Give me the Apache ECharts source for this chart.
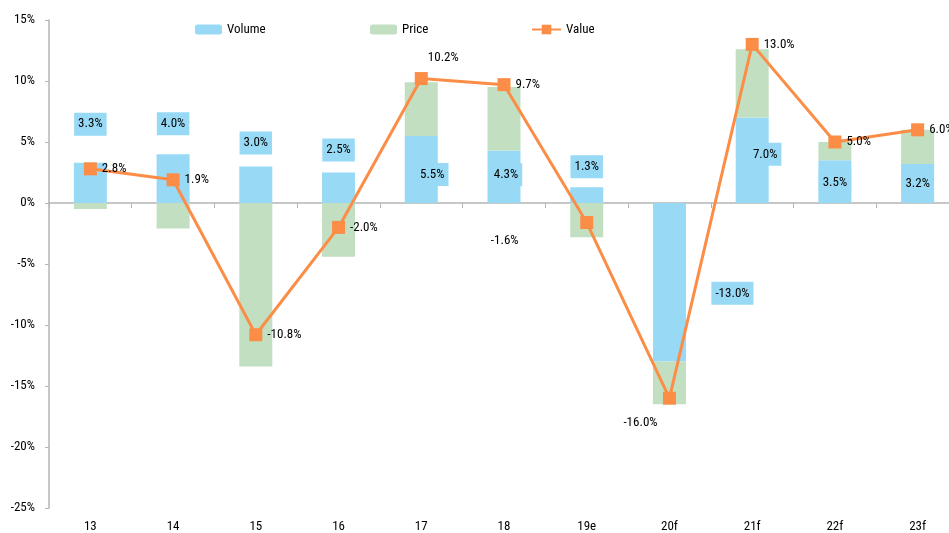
<!DOCTYPE html>
<html>
<head>
<meta charset="utf-8">
<script src="https://cdn.jsdelivr.net/npm/echarts@6/dist/echarts.min.js"></script>
<style>html,body{margin:0;padding:0;background:#fff;}#c{width:949px;height:533px;}</style>
</head>
<body>
<div id="c"></div>
<script>
const categories = ['13','14','15','16','17','18','19e','20f','21f','22f','23f'];
const volume = [3.3, 4.0, 3.0, 2.5, 5.5, 4.3, 1.3, -13.0, 7.0, 3.5, 3.2];
const price  = [-0.5, -2.1, -13.4, -4.4, 4.4, 5.2, -2.8, -3.5, 5.6, 1.5, 2.8];
const value  = [2.8, 1.9, -10.8, -2.0, 10.2, 9.7, -1.6, -16.0, 13.0, 5.0, 6.0];
const yTicks = { min: -25, max: 15, interval: 5 };

const FONT = "'Roboto Condensed', 'Liberation Sans Narrow', 'DejaVu Sans Condensed', 'DejaVu Sans', sans-serif";
const FSTYLE = 'condensed';
const BLUE = '#98D9F6', GREEN = '#C3DFC1', ORANGE = '#FB8D47', TXT = '#000000', AXIS = '#b5b5b5';

// label placement (style only)
const volLabelPlace = [
  {position:'top', distance:27}, {position:'top', distance:19}, {position:'top', distance:12},
  {position:'top', distance:11}, {position:'inside', offset:[11,5]}, {position:'inside', offset:[2,-2]},
  {position:'top', distance:9}, {position:'inside', offset:[63,11]}, {position:'inside', offset:[13,-6]},
  {position:'inside', offset:[0,1]}, {position:'inside', offset:[0,0]}
];
const valLabelPlace = [
  {position:'right'}, {position:'right'}, {position:'right'}, {position:'right'},
  {position:'top', offset:[22,0], distance:8}, {position:'right'}, {position:'bottom', offset:[-82,0]},
  {position:'bottom', offset:[-29,7]}, {position:'right'}, {position:'right'}, {position:'right'}
];

const fmt = v => v.toFixed(1) + '%';
const txt = { fontFamily:FONT, fontStyle:FSTYLE, fontSize:13, color:TXT };

const chart = echarts.init(document.getElementById('c'), null, {renderer:'canvas'});
chart.setOption({
  animation: false,
  textStyle: { fontFamily: FONT },
  legend: [
    { data:['Volume'], left:190, top:18, itemWidth:27, itemHeight:10, textStyle:txt },
    { data:['Price'], left:365, top:18, itemWidth:27, itemHeight:10, textStyle:txt },
    { data:['Value'], left:526, top:18, itemWidth:29, itemHeight:12, textStyle:txt }
  ],
  grid: { left:49, width:910, top:20, bottom:25, containLabel:false, outerBoundsMode:'none' },
  xAxis: [
    { type:'category', data:categories, position:'bottom',
      axisLine:{ onZero:true, lineStyle:{color:AXIS, width:1.5} },
      axisTick:{ show:true, alignWithLabel:false, length:5, lineStyle:{color:AXIS} },
      axisLabel:{ show:false } },
    { type:'category', data:categories, position:'bottom', gridIndex:0,
      axisLine:{ show:false }, axisTick:{ show:false },
      axisLabel:Object.assign({ show:true, margin:12 }, txt) }
  ],
  yAxis: {
    type:'value', min:yTicks.min, max:yTicks.max, interval:yTicks.interval,
    axisLine:{ show:true, lineStyle:{color:AXIS, width:1.5} },
    axisTick:{ show:true, length:4, lineStyle:{color:AXIS} },
    splitLine:{ show:false },
    axisLabel:Object.assign({ formatter:'{value}%', margin:14 }, txt)
  },
  series: [
    { name:'Volume', type:'bar', stack:'vp', barWidth:33, xAxisIndex:0,
      itemStyle:{ color:BLUE },
      data: volume.map((v,i) => ({ value:v, label: Object.assign({
        show:true, formatter: fmt(v), backgroundColor:BLUE, padding:[5,4,5,4] }, txt, volLabelPlace[i]) })) },
    { name:'Price', type:'bar', stack:'vp', barWidth:33, xAxisIndex:0,
      itemStyle:{ color:GREEN },
      data: price },
    { name:'Value', type:'line', xAxisIndex:0, symbol:'rect', symbolSize:13,
      lineStyle:{ color:ORANGE, width:3 }, itemStyle:{ color:ORANGE },
      z:5,
      data: value.map((v,i) => ({ value:v, label: Object.assign({
        show:true, formatter: fmt(v), distance:5 }, txt, valLabelPlace[i]) })) }
  ]
});
</script>
</body>
</html>
